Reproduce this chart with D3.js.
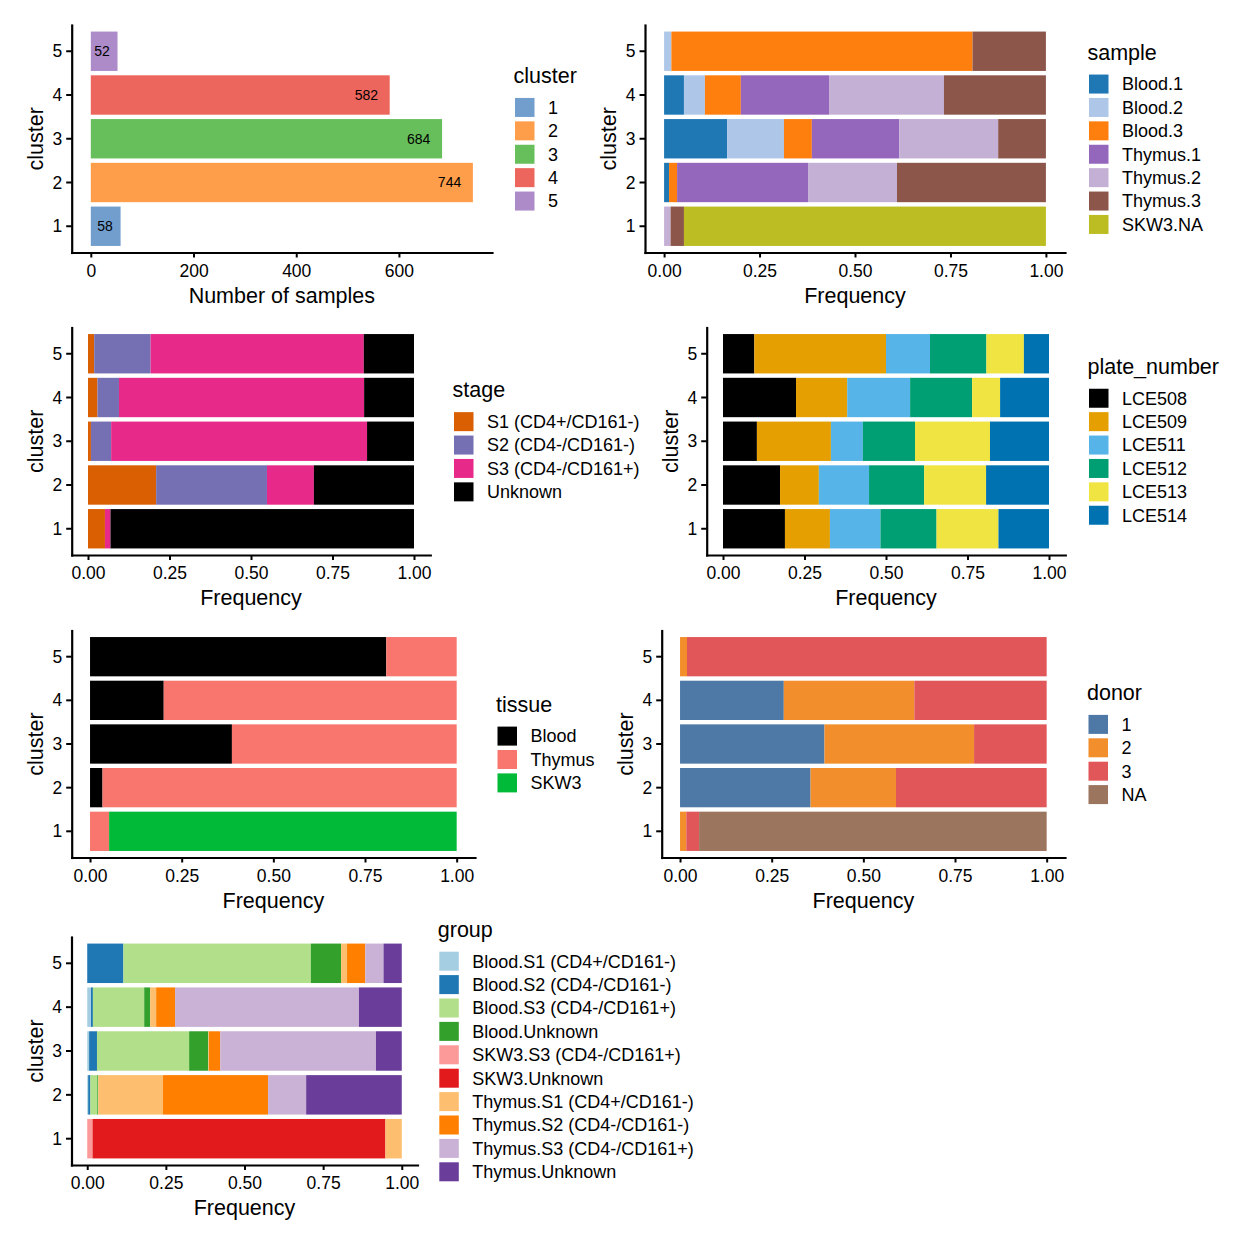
<!DOCTYPE html>
<html><head><meta charset="utf-8">
<script src="https://cdn.jsdelivr.net/npm/d3@7"></script>
<style>body{margin:0;background:#fff} text{font-family:"Liberation Sans",Arial,Helvetica,sans-serif}</style>
</head><body><svg id="chart" width="1248" height="1248"></svg>
<script>
// ---------------- data ----------------
const clusters = ["1", "2", "3", "4", "5"];
const clusterCounts = [58, 744, 684, 582, 52];
const clusterColors = ["#729ECE", "#FF9E4A", "#67BF5C", "#ED665D", "#AD8BC9"];
const countTicks = [0, 200, 400, 600];
const freqTicks = [0, 0.25, 0.5, 0.75, 1];

// each row: one level, values for clusters 1..5
const sampleLevels = ["Blood.1", "Blood.2", "Blood.3", "Thymus.1", "Thymus.2", "Thymus.3", "SKW3.NA"];
const sampleColors = ["#1F77B4", "#AEC7E8", "#FF7F0E", "#9467BD", "#C5B0D5", "#8C564B", "#BCBD22"];
const sampleFreq = [
  [0, 0.013, 0.165, 0.052, 0],
  [0, 0, 0.149, 0.055, 0.019],
  [0, 0.021, 0.073, 0.094, 0.788],
  [0, 0.343, 0.229, 0.231, 0],
  [0.017, 0.233, 0.259, 0.301, 0],
  [0.035, 0.390, 0.125, 0.267, 0.192],
  [0.948, 0, 0, 0, 0]
];

const stageLevels = ["S1 (CD4+/CD161-)", "S2 (CD4-/CD161-)", "S3 (CD4-/CD161+)", "Unknown"];
const stageColors = ["#D95F02", "#7570B3", "#E7298A", "#000000"];
const stageFreq = [
  [0.052, 0.209, 0.009, 0.029, 0.019],
  [0, 0.340, 0.062, 0.066, 0.173],
  [0.017, 0.144, 0.785, 0.752, 0.654],
  [0.931, 0.307, 0.144, 0.153, 0.154]
];

const plateLevels = ["LCE508", "LCE509", "LCE511", "LCE512", "LCE513", "LCE514"];
const plateColors = ["#000000", "#E69F00", "#56B4E9", "#009E73", "#F0E442", "#0072B2"];
const plateFreq = [
  [0.190, 0.175, 0.104, 0.224, 0.096],
  [0.138, 0.119, 0.227, 0.157, 0.404],
  [0.155, 0.154, 0.098, 0.193, 0.135],
  [0.172, 0.169, 0.160, 0.190, 0.173],
  [0.190, 0.190, 0.230, 0.086, 0.115],
  [0.155, 0.193, 0.181, 0.150, 0.077]
];

const tissueLevels = ["Blood", "Thymus", "SKW3"];
const tissueColors = ["#000000", "#F8766D", "#00BA38"];
const tissueFreq = [
  [0, 0.034, 0.387, 0.201, 0.808],
  [0.052, 0.966, 0.613, 0.799, 0.192],
  [0.948, 0, 0, 0, 0]
];

const donorLevels = ["1", "2", "3", "NA"];
const donorColors = ["#4E79A7", "#F28E2B", "#E15759", "#9C755F"];
const donorFreq = [
  [0, 0.356, 0.394, 0.283, 0],
  [0.017, 0.233, 0.408, 0.356, 0.019],
  [0.035, 0.411, 0.198, 0.361, 0.981],
  [0.948, 0, 0, 0, 0]
];

const groupLevels = ["Blood.S1 (CD4+/CD161-)", "Blood.S2 (CD4-/CD161-)", "Blood.S3 (CD4-/CD161+)", "Blood.Unknown",
  "SKW3.S3 (CD4-/CD161+)", "SKW3.Unknown", "Thymus.S1 (CD4+/CD161-)", "Thymus.S2 (CD4-/CD161-)",
  "Thymus.S3 (CD4-/CD161+)", "Thymus.Unknown"];
const groupColors = ["#A6CEE3", "#1F78B4", "#B2DF8A", "#33A02C", "#FB9A99", "#E31A1C", "#FDBF6F", "#FF7F00", "#CAB2D6", "#6A3D9A"];
const groupFreq = [
  [0, 0.003, 0.006, 0.012, 0],
  [0, 0.007, 0.025, 0.006, 0.115],
  [0, 0.022, 0.293, 0.163, 0.596],
  [0, 0.003, 0.061, 0.019, 0.096],
  [0.017, 0, 0, 0, 0],
  [0.931, 0, 0, 0, 0],
  [0.052, 0.206, 0.002, 0.019, 0.019],
  [0, 0.334, 0.036, 0.060, 0.058],
  [0, 0.121, 0.495, 0.584, 0.058],
  [0, 0.304, 0.082, 0.136, 0.058]
];

// ---------------- drawing ----------------
const FONT_TICK = 17.5, FONT_TITLE = 21.5, FONT_LEG = 18, FONT_LAB = 14;
const svg = d3.select("#chart");
svg.append("rect").attr("width", 1248).attr("height", 1248).attr("fill", "#fff");

function yBand(top, bottom) {
  return d3.scaleBand().domain(clusters.slice().reverse()).range([top, bottom])
    .paddingInner(0.1).paddingOuter(0.15);
}

function drawAxes(x, y, L, R, T, B, ticks, fmt, xTitle) {
  const g = svg.append("g");
  const ax = g.append("g").attr("transform", `translate(0,${B})`)
    .call(d3.axisBottom(x).tickValues(ticks).tickFormat(fmt).tickSize(5).tickSizeOuter(0));
  const ay = g.append("g").attr("transform", `translate(${L},0)`)
    .call(d3.axisLeft(y).tickSize(5.5).tickSizeOuter(0));
  [ax, ay].forEach(a => {
    a.attr("font-family", null).attr("font-size", null);
    a.select(".domain").attr("stroke", "#000").attr("stroke-width", 2.2).attr("stroke-linecap", "square");
    a.selectAll(".tick line").attr("stroke", "#000").attr("stroke-width", 2);
    a.selectAll(".tick text").attr("fill", "#000").style("font-size", FONT_TICK + "px");
  });
  ax.selectAll(".tick text").attr("y", 24).attr("dy", null);
  ay.selectAll(".tick text").attr("x", -9.5).attr("dy", "0.35em");
  g.append("text").attr("x", (L + R) / 2).attr("y", B + 50).attr("text-anchor", "middle")
    .style("font-size", FONT_TITLE + "px").text(xTitle);
  g.append("text").attr("transform", `translate(${L - 29},${(T + B) / 2}) rotate(-90)`)
    .attr("text-anchor", "middle").style("font-size", FONT_TITLE + "px").text("cluster");
}

function drawLegend(title, levels, colors, keyLeft, T, B) {
  const step = 23.4;
  const c1 = (T + B) / 2 - levels.length * step / 2 + 27.2;
  const g = svg.append("g");
  g.append("text").attr("x", keyLeft - 1.5).attr("y", c1 - 24.5)
    .style("font-size", FONT_TITLE + "px").text(title);
  levels.forEach((lv, i) => {
    const cy = c1 + i * step;
    g.append("rect").attr("x", keyLeft).attr("y", cy - 9.5).attr("width", 19.5).attr("height", 19).attr("fill", colors[i]);
    g.append("text").attr("x", keyLeft + 33).attr("y", cy).attr("dy", "0.35em")
      .style("font-size", FONT_LEG + "px").text(lv);
  });
}

function stackedPanel(cfg) {
  const { L, R, T, B, levels, colors, freq, title, keyLeft } = cfg;
  const x = d3.scaleLinear().domain([-0.05, 1.05]).range([L, R]);
  const y = yBand(T, B);
  const rows = clusters.map((c, i) => {
    const r = { cluster: c };
    levels.forEach((lv, j) => { r[lv] = freq[j][i]; });
    return r;
  });
  const series = d3.stack().keys(levels).offset(d3.stackOffsetExpand)(rows);
  const g = svg.append("g");
  series.forEach((s, j) => {
    g.selectAll(null).data(s.filter(d => d[1] - d[0] > 0)).enter().append("rect")
      .attr("x", d => x(d[0])).attr("width", d => x(d[1]) - x(d[0]))
      .attr("y", d => y(d.data.cluster)).attr("height", y.bandwidth())
      .attr("fill", colors[j]);
  });
  drawAxes(x, y, L, R, T, B, freqTicks, d3.format(".2f"), "Frequency");
  drawLegend(title, levels, colors, keyLeft, T, B);
}

// Panel 1: counts
(function () {
  const L = 71.7, R = 492, T = 25, B = 252.5;
  const maxV = d3.max(clusterCounts);
  const x = d3.scaleLinear().domain([-0.05 * maxV, 1.05 * maxV]).range([L, R]);
  const y = yBand(T, B);
  const g = svg.append("g");
  g.selectAll("rect").data(clusters).enter().append("rect")
    .attr("x", x(0)).attr("width", (d, i) => x(clusterCounts[i]) - x(0))
    .attr("y", d => y(d)).attr("height", y.bandwidth())
    .attr("fill", (d, i) => clusterColors[i]);
  g.selectAll("text.lab").data(clusters).enter().append("text").attr("class", "lab")
    .attr("y", d => y(d) + y.bandwidth() / 2).attr("dy", "0.35em")
    .attr("text-anchor", "end").style("font-size", FONT_LAB + "px")
    .text((d, i) => clusterCounts[i])
    .each(function (d, i) {
      const w = this.getComputedTextLength();
      d3.select(this).attr("x", x(clusterCounts[i]) - 0.5 * w);
    });
  drawAxes(x, y, L, R, T, B, countTicks, d3.format("d"), "Number of samples");
  drawLegend("cluster", clusters, clusterColors, 515, T, B);
})();

stackedPanel({ L: 645, R: 1065, T: 25, B: 252.5, levels: sampleLevels, colors: sampleColors, freq: sampleFreq, title: "sample", keyLeft: 1089 });
stackedPanel({ L: 71.7, R: 430.3, T: 327.5, B: 555, levels: stageLevels, colors: stageColors, freq: stageFreq, title: "stage", keyLeft: 454 });
stackedPanel({ L: 706.7, R: 1065.3, T: 327.5, B: 555, levels: plateLevels, colors: plateColors, freq: plateFreq, title: "plate_number", keyLeft: 1089 });
stackedPanel({ L: 71.7, R: 475, T: 630.5, B: 857.5, levels: tissueLevels, colors: tissueColors, freq: tissueFreq, title: "tissue", keyLeft: 497.5 });
stackedPanel({ L: 661.7, R: 1065, T: 630.5, B: 857.5, levels: donorLevels, colors: donorColors, freq: donorFreq, title: "donor", keyLeft: 1088.5 });
stackedPanel({ L: 71.5, R: 417.5, T: 937, B: 1165, levels: groupLevels, colors: groupColors, freq: groupFreq, title: "group", keyLeft: 439.3 });
</script>
</body></html>
